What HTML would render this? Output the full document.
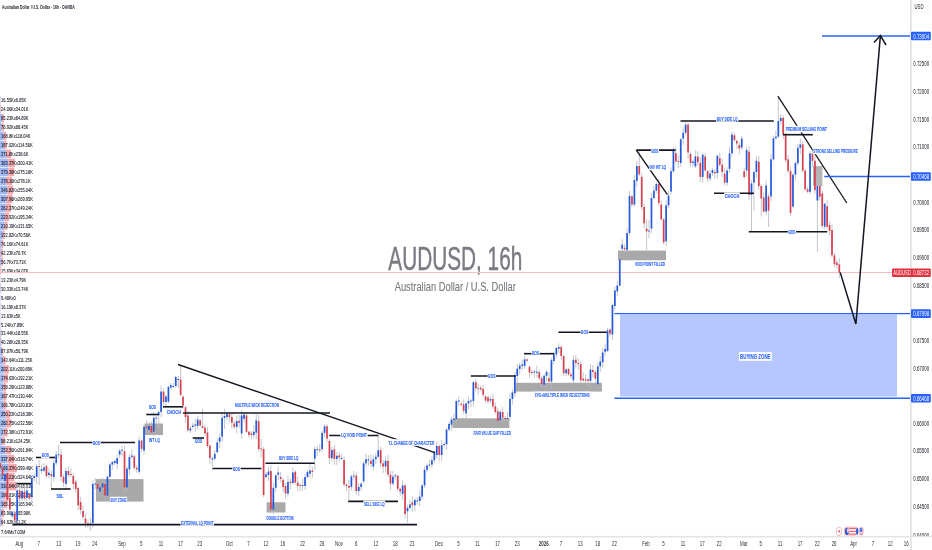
<!DOCTYPE html><html><head><meta charset="utf-8"><style>html,body{margin:0;padding:0;background:#fff;overflow:hidden}svg{display:block}</style></head><body><svg width="932" height="550" viewBox="0 0 932 550" font-family="Liberation Sans, Arial, sans-serif">
<rect width="932" height="550" fill="#ffffff"/>
<g fill="#7a7b83" stroke="#7a7b83">
<text x="388.3" y="270.4" font-size="32.7" stroke-width="0.45" textLength="134" lengthAdjust="spacingAndGlyphs">AUDUSD, 16h</text>
<text x="394.7" y="291.3" font-size="12.2" stroke-width="0.12" textLength="121.2" lengthAdjust="spacingAndGlyphs">Australian Dollar / U.S. Dollar</text>
</g>
<g>
<rect x="0" y="95.80" width="0.36" height="8.4" fill="#a3b9f2"/>
<rect x="0.36" y="95.80" width="0.13" height="8.4" fill="#f6a9ae"/>
<rect x="0" y="104.78" width="0.52" height="8.4" fill="#a3b9f2"/>
<rect x="0.52" y="104.78" width="0.74" height="8.4" fill="#f6a9ae"/>
<rect x="0" y="113.76" width="2.08" height="8.4" fill="#a3b9f2"/>
<rect x="2.08" y="113.76" width="1.85" height="8.4" fill="#f6a9ae"/>
<rect x="0" y="122.74" width="1.72" height="8.4" fill="#a3b9f2"/>
<rect x="1.72" y="122.74" width="1.93" height="8.4" fill="#f6a9ae"/>
<rect x="0" y="131.72" width="3.68" height="8.4" fill="#a3b9f2"/>
<rect x="3.68" y="131.72" width="2.57" height="8.4" fill="#f6a9ae"/>
<rect x="0" y="140.70" width="4.08" height="8.4" fill="#a3b9f2"/>
<rect x="4.08" y="140.70" width="2.50" height="8.4" fill="#f6a9ae"/>
<rect x="0" y="149.68" width="5.93" height="8.4" fill="#a3b9f2"/>
<rect x="5.93" y="149.68" width="5.20" height="8.4" fill="#f6a9ae"/>
<rect x="0" y="158.66" width="8.36" height="8.4" fill="#a3b9f2"/>
<rect x="8.36" y="158.66" width="6.55" height="8.4" fill="#f6a9ae"/>
<rect x="0" y="167.64" width="8.27" height="8.4" fill="#a3b9f2"/>
<rect x="8.27" y="167.64" width="6.00" height="8.4" fill="#f6a9ae"/>
<rect x="0" y="176.62" width="6.06" height="8.4" fill="#a3b9f2"/>
<rect x="6.06" y="176.62" width="6.06" height="8.4" fill="#f6a9ae"/>
<rect x="0" y="185.60" width="7.56" height="8.4" fill="#a3b9f2"/>
<rect x="7.56" y="185.60" width="5.56" height="8.4" fill="#f6a9ae"/>
<rect x="0" y="194.58" width="6.71" height="8.4" fill="#a3b9f2"/>
<rect x="6.71" y="194.58" width="5.88" height="8.4" fill="#f6a9ae"/>
<rect x="0" y="203.56" width="5.72" height="8.4" fill="#a3b9f2"/>
<rect x="5.72" y="203.56" width="5.43" height="8.4" fill="#f6a9ae"/>
<rect x="0" y="212.54" width="4.88" height="8.4" fill="#a3b9f2"/>
<rect x="4.88" y="212.54" width="4.26" height="8.4" fill="#f6a9ae"/>
<rect x="0" y="221.52" width="4.58" height="8.4" fill="#a3b9f2"/>
<rect x="4.58" y="221.52" width="2.87" height="8.4" fill="#f6a9ae"/>
<rect x="0" y="230.50" width="2.90" height="8.4" fill="#a3b9f2"/>
<rect x="2.90" y="230.50" width="1.54" height="8.4" fill="#f6a9ae"/>
<rect x="0" y="239.48" width="1.66" height="8.4" fill="#a3b9f2"/>
<rect x="1.66" y="239.48" width="1.63" height="8.4" fill="#f6a9ae"/>
<rect x="0" y="248.46" width="0.92" height="8.4" fill="#a3b9f2"/>
<rect x="0.92" y="248.46" width="1.54" height="8.4" fill="#f6a9ae"/>
<rect x="0" y="257.44" width="1.24" height="8.4" fill="#a3b9f2"/>
<rect x="1.24" y="257.44" width="1.61" height="8.4" fill="#f6a9ae"/>
<rect x="0" y="266.42" width="0.34" height="8.4" fill="#a3b9f2"/>
<rect x="0.34" y="266.42" width="0.74" height="8.4" fill="#f6a9ae"/>
<rect x="0" y="275.40" width="0.30" height="8.4" fill="#a3b9f2"/>
<rect x="0.30" y="275.40" width="0.10" height="8.4" fill="#f6a9ae"/>
<rect x="0" y="284.38" width="0.66" height="8.4" fill="#a3b9f2"/>
<rect x="0.66" y="284.38" width="0.30" height="8.4" fill="#f6a9ae"/>
<rect x="0" y="293.36" width="0.30" height="8.4" fill="#a3b9f2"/>
<rect x="0.30" y="293.36" width="0.00" height="8.4" fill="#f6a9ae"/>
<rect x="0" y="302.34" width="0.35" height="8.4" fill="#a3b9f2"/>
<rect x="0.35" y="302.34" width="0.18" height="8.4" fill="#f6a9ae"/>
<rect x="0" y="311.32" width="0.30" height="8.4" fill="#a3b9f2"/>
<rect x="0.30" y="311.32" width="0.11" height="8.4" fill="#f6a9ae"/>
<rect x="0" y="320.30" width="0.30" height="8.4" fill="#a3b9f2"/>
<rect x="0.30" y="320.30" width="0.17" height="8.4" fill="#f6a9ae"/>
<rect x="0" y="329.28" width="0.73" height="8.4" fill="#a3b9f2"/>
<rect x="0.73" y="329.28" width="0.40" height="8.4" fill="#f6a9ae"/>
<rect x="0" y="338.26" width="0.88" height="8.4" fill="#a3b9f2"/>
<rect x="0.88" y="338.26" width="0.62" height="8.4" fill="#f6a9ae"/>
<rect x="0" y="347.24" width="1.92" height="8.4" fill="#a3b9f2"/>
<rect x="1.92" y="347.24" width="1.24" height="8.4" fill="#f6a9ae"/>
<rect x="0" y="356.22" width="3.13" height="8.4" fill="#a3b9f2"/>
<rect x="3.13" y="356.22" width="2.43" height="8.4" fill="#f6a9ae"/>
<rect x="0" y="365.20" width="4.41" height="8.4" fill="#a3b9f2"/>
<rect x="4.41" y="365.20" width="4.38" height="8.4" fill="#f6a9ae"/>
<rect x="0" y="374.18" width="3.81" height="8.4" fill="#a3b9f2"/>
<rect x="3.81" y="374.18" width="4.19" height="8.4" fill="#f6a9ae"/>
<rect x="0" y="383.16" width="3.45" height="8.4" fill="#a3b9f2"/>
<rect x="3.45" y="383.16" width="2.70" height="8.4" fill="#f6a9ae"/>
<rect x="0" y="392.14" width="3.65" height="8.4" fill="#a3b9f2"/>
<rect x="3.65" y="392.14" width="2.84" height="8.4" fill="#f6a9ae"/>
<rect x="0" y="401.12" width="3.64" height="8.4" fill="#a3b9f2"/>
<rect x="3.64" y="401.12" width="2.63" height="8.4" fill="#f6a9ae"/>
<rect x="0" y="410.10" width="5.46" height="8.4" fill="#a3b9f2"/>
<rect x="5.46" y="410.10" width="4.76" height="8.4" fill="#f6a9ae"/>
<rect x="0" y="419.08" width="6.16" height="8.4" fill="#a3b9f2"/>
<rect x="6.16" y="419.08" width="5.07" height="8.4" fill="#f6a9ae"/>
<rect x="0" y="428.06" width="3.76" height="8.4" fill="#a3b9f2"/>
<rect x="3.76" y="428.06" width="3.79" height="8.4" fill="#f6a9ae"/>
<rect x="0" y="437.04" width="2.14" height="8.4" fill="#a3b9f2"/>
<rect x="2.14" y="437.04" width="2.71" height="8.4" fill="#f6a9ae"/>
<rect x="0" y="446.02" width="5.53" height="8.4" fill="#a3b9f2"/>
<rect x="5.53" y="446.02" width="5.71" height="8.4" fill="#f6a9ae"/>
<rect x="0" y="455.00" width="7.35" height="8.4" fill="#a3b9f2"/>
<rect x="7.35" y="455.00" width="6.95" height="8.4" fill="#f6a9ae"/>
<rect x="0" y="463.98" width="7.99" height="8.4" fill="#a3b9f2"/>
<rect x="7.99" y="463.98" width="8.71" height="8.4" fill="#f6a9ae"/>
<rect x="0" y="472.96" width="7.35" height="8.4" fill="#a3b9f2"/>
<rect x="7.35" y="472.96" width="7.08" height="8.4" fill="#f6a9ae"/>
<rect x="0" y="481.94" width="7.19" height="8.4" fill="#a3b9f2"/>
<rect x="7.19" y="481.94" width="9.13" height="8.4" fill="#f6a9ae"/>
<rect x="0" y="490.92" width="4.29" height="8.4" fill="#a3b9f2"/>
<rect x="4.29" y="490.92" width="4.43" height="8.4" fill="#f6a9ae"/>
<rect x="0" y="499.90" width="3.60" height="8.4" fill="#a3b9f2"/>
<rect x="3.60" y="499.90" width="3.62" height="8.4" fill="#f6a9ae"/>
<rect x="0" y="508.88" width="1.83" height="8.4" fill="#a3b9f2"/>
<rect x="1.83" y="508.88" width="2.31" height="8.4" fill="#f6a9ae"/>
<rect x="0" y="517.86" width="1.41" height="8.4" fill="#a3b9f2"/>
<rect x="1.41" y="517.86" width="1.33" height="8.4" fill="#f6a9ae"/>
</g>
<g fill="#131722" stroke="#131722" stroke-width="0.08">
<text transform="translate(1.1,102.00) scale(0.73,1)" font-size="5.5">16.55Kx6.05K</text>
<text transform="translate(1.1,110.98) scale(0.73,1)" font-size="5.5">24.06Kx34.01K</text>
<text transform="translate(1.1,119.96) scale(0.73,1)" font-size="5.5">95.23Kx84.89K</text>
<text transform="translate(1.1,128.94) scale(0.73,1)" font-size="5.5">78.92Kx88.45K</text>
<text transform="translate(1.1,137.92) scale(0.73,1)" font-size="5.5">168.8Kx118.04K</text>
<text transform="translate(1.1,146.90) scale(0.73,1)" font-size="5.5">187.02Kx114.56K</text>
<text transform="translate(1.1,155.88) scale(0.73,1)" font-size="5.5">271.8Kx238.6K</text>
<text transform="translate(1.1,164.86) scale(0.73,1)" font-size="5.5">383.37Kx300.41K</text>
<text transform="translate(1.1,173.84) scale(0.73,1)" font-size="5.5">379.38Kx275.18K</text>
<text transform="translate(1.1,182.82) scale(0.73,1)" font-size="5.5">278.16Kx278.1K</text>
<text transform="translate(1.1,191.80) scale(0.73,1)" font-size="5.5">346.82Kx255.04K</text>
<text transform="translate(1.1,200.78) scale(0.73,1)" font-size="5.5">307.96Kx269.95K</text>
<text transform="translate(1.1,209.76) scale(0.73,1)" font-size="5.5">262.37Kx249.24K</text>
<text transform="translate(1.1,218.74) scale(0.73,1)" font-size="5.5">223.92Kx195.34K</text>
<text transform="translate(1.1,227.72) scale(0.73,1)" font-size="5.5">210.19Kx131.65K</text>
<text transform="translate(1.1,236.70) scale(0.73,1)" font-size="5.5">132.82Kx70.56K</text>
<text transform="translate(1.1,245.68) scale(0.73,1)" font-size="5.5">76.16Kx74.61K</text>
<text transform="translate(1.1,254.66) scale(0.73,1)" font-size="5.5">42.23Kx70.7K</text>
<text transform="translate(1.1,263.64) scale(0.73,1)" font-size="5.5">56.7Kx73.71K</text>
<text transform="translate(1.1,272.62) scale(0.73,1)" font-size="5.5">15.69Kx34.07K</text>
<text transform="translate(1.1,281.60) scale(0.73,1)" font-size="5.5">13.23Kx4.79K</text>
<text transform="translate(1.1,290.58) scale(0.73,1)" font-size="5.5">30.33Kx13.74K</text>
<text transform="translate(1.1,299.56) scale(0.73,1)" font-size="5.5">9.48Kx0</text>
<text transform="translate(1.1,308.54) scale(0.73,1)" font-size="5.5">16.19Kx8.37K</text>
<text transform="translate(1.1,317.52) scale(0.73,1)" font-size="5.5">13.63Kx5K</text>
<text transform="translate(1.1,326.50) scale(0.73,1)" font-size="5.5">5.24Kx7.89K</text>
<text transform="translate(1.1,335.48) scale(0.73,1)" font-size="5.5">33.44Kx18.55K</text>
<text transform="translate(1.1,344.46) scale(0.73,1)" font-size="5.5">40.28Kx28.35K</text>
<text transform="translate(1.1,353.44) scale(0.73,1)" font-size="5.5">87.87Kx56.79K</text>
<text transform="translate(1.1,362.42) scale(0.73,1)" font-size="5.5">143.64Kx111.25K</text>
<text transform="translate(1.1,371.40) scale(0.73,1)" font-size="5.5">202.11Kx200.89K</text>
<text transform="translate(1.1,380.38) scale(0.73,1)" font-size="5.5">174.63Kx192.21K</text>
<text transform="translate(1.1,389.36) scale(0.73,1)" font-size="5.5">158.29Kx123.88K</text>
<text transform="translate(1.1,398.34) scale(0.73,1)" font-size="5.5">167.47Kx130.44K</text>
<text transform="translate(1.1,407.32) scale(0.73,1)" font-size="5.5">166.78Kx120.81K</text>
<text transform="translate(1.1,416.30) scale(0.73,1)" font-size="5.5">250.23Kx218.38K</text>
<text transform="translate(1.1,425.28) scale(0.73,1)" font-size="5.5">282.75Kx232.56K</text>
<text transform="translate(1.1,434.26) scale(0.73,1)" font-size="5.5">172.38Kx173.91K</text>
<text transform="translate(1.1,443.24) scale(0.73,1)" font-size="5.5">98.21Kx124.25K</text>
<text transform="translate(1.1,452.22) scale(0.73,1)" font-size="5.5">253.56Kx261.84K</text>
<text transform="translate(1.1,461.20) scale(0.73,1)" font-size="5.5">337.04Kx318.74K</text>
<text transform="translate(1.1,470.18) scale(0.73,1)" font-size="5.5">366.37Kx399.46K</text>
<text transform="translate(1.1,479.16) scale(0.73,1)" font-size="5.5">337.21Kx324.64K</text>
<text transform="translate(1.1,488.14) scale(0.73,1)" font-size="5.5">330.04Kx418.91K</text>
<text transform="translate(1.1,497.12) scale(0.73,1)" font-size="5.5">196.81Kx203.35K</text>
<text transform="translate(1.1,506.10) scale(0.73,1)" font-size="5.5">165.35Kx165.94K</text>
<text transform="translate(1.1,515.08) scale(0.73,1)" font-size="5.5">83.96Kx105.98K</text>
<text transform="translate(1.1,524.06) scale(0.73,1)" font-size="5.5">64.62Kx61.2K</text>
<text transform="translate(1.1,533.70) scale(0.73,1)" font-size="5.5">7.64Mx7.03M</text>
</g>
<line x1="0" y1="272.5" x2="910" y2="272.5" stroke="#f6bcc1" stroke-width="1.0"/>
<rect x="95.9" y="479.1" width="47.60" height="22.50" fill="#a9a9a9"/>
<rect x="144.6" y="423.5" width="18.40" height="11.50" fill="#a9a9a9"/>
<rect x="266.6" y="502.3" width="18.90" height="10.20" fill="#a9a9a9"/>
<rect x="452.4" y="418.3" width="57.00" height="9.70" fill="#a9a9a9"/>
<rect x="515.8" y="382.8" width="86.10" height="8.80" fill="#a9a9a9"/>
<rect x="618" y="250.6" width="48.00" height="9.70" fill="#a9a9a9"/>
<rect x="813" y="166" width="9.4" height="20" fill="#a3a3a3" fill-opacity="0.8"/>
<rect x="620" y="314.5" width="277" height="82" fill="#b5c7fe"/>
<path d="M0.10 460.2V469.8M2.54 463.4V476.4M4.98 470.1V484.0M7.42 471.7V503.8M9.86 496.8V512.9M12.30 510.8V517.8M14.74 510.3V525.9M17.18 488.7V522.6M19.62 485.9V504.8M22.06 486.8V501.8M24.50 485.4V499.9M26.94 484.7V500.5M29.38 492.7V500.2M31.81 475.5V502.7M34.25 474.0V482.2M36.69 464.0V484.0M39.13 460.0V485.0M41.57 464.5V474.0M44.01 463.5V472.0M46.45 464.7V478.1M48.89 468.0V478.4M51.33 470.0V489.0M53.77 460.3V481.2M56.21 451.2V465.6M58.65 445.0V458.0M61.09 449.3V481.6M63.53 474.5V486.7M65.97 467.1V489.8M68.41 466.0V477.6M70.85 467.6V476.6M73.29 472.7V489.2M75.73 479.9V492.7M78.17 486.8V510.1M80.61 496.8V514.2M83.05 505.2V519.7M85.49 513.7V527.7M87.93 519.3V528.0M90.37 517.9V530.7M92.80 480.4V527.7M95.24 478.0V489.0M97.68 482.7V493.9M100.12 482.8V498.0M102.56 477.8V490.0M105.00 480.9V500.3M107.44 475.7V499.1M109.88 462.6V478.4M112.32 460.7V469.7M114.76 459.3V465.4M117.20 454.8V469.5M119.64 449.2V458.2M122.08 445.8V456.5M124.52 445.9V493.2M126.96 466.1V490.7M129.40 454.0V475.3M131.84 449.2V458.8M134.28 454.3V470.1M136.72 465.5V473.1M139.16 436.4V474.1M141.60 439.6V452.1M144.04 423.8V454.6M146.48 420.3V432.8M148.92 422.2V434.4M151.36 421.3V433.8M153.79 411.9V437.0M156.23 416.0V424.0M158.67 411.0V429.0M161.11 385.8V417.4M163.55 388.4V405.2M165.99 394.9V406.5M168.43 385.6V403.0M170.87 383.1V389.6M173.31 383.1V388.3M175.75 376.0V387.8M178.19 376.0V388.0M180.63 365.6V396.0M183.07 395.1V408.6M185.51 406.2V422.8M187.95 411.1V432.0M190.39 426.1V433.4M192.83 422.6V428.7M195.27 418.7V432.1M197.71 415.9V429.7M200.15 418.9V426.9M202.59 409.0V429.0M205.03 424.8V435.9M207.47 427.0V447.9M209.91 444.6V464.2M212.35 457.0V467.0M214.78 449.9V460.5M217.22 438.4V453.3M219.66 433.6V448.0M222.10 412.2V441.5M224.54 409.0V429.0M226.98 411.4V420.0M229.42 412.4V422.2M231.86 413.1V428.1M234.30 420.8V429.1M236.74 415.5V433.3M239.18 415.1V428.2M241.62 409.9V438.5M244.06 412.4V422.5M246.50 412.4V433.0M248.94 430.6V437.5M251.38 431.0V439.8M253.82 425.5V438.5M256.26 414.2V439.1M258.70 414.9V452.0M261.14 439.0V457.0M263.58 446.8V497.2M266.02 472.2V479.1M268.46 467.1V481.0M270.90 465.4V513.2M273.34 483.2V515.0M275.77 473.9V492.4M278.21 466.5V480.0M280.65 471.9V482.6M283.09 477.8V492.3M285.53 483.2V499.0M287.97 475.7V496.8M290.41 478.3V489.2M292.85 467.5V484.9M295.29 470.1V484.3M297.73 476.7V491.4M300.17 483.2V491.5M302.61 478.6V490.6M305.05 474.1V490.0M307.49 470.3V478.1M309.93 464.2V478.3M312.37 466.6V478.1M314.81 447.0V470.0M317.25 445.8V455.8M319.69 444.0V452.7M322.13 430.5V451.8M324.57 424.0V437.1M327.01 423.9V441.9M329.45 439.3V464.2M331.89 447.1V461.7M334.33 445.0V465.0M336.76 452.5V465.0M339.20 451.6V461.3M341.64 454.1V460.1M344.08 456.6V486.5M346.52 483.5V491.4M348.96 480.0V500.0M351.40 474.5V490.6M353.84 470.6V480.5M356.28 472.8V494.9M358.72 482.9V496.3M361.16 482.1V491.1M363.60 460.9V483.8M366.04 454.0V467.1M368.48 455.4V465.7M370.92 454.8V467.4M373.36 454.8V470.4M375.80 453.0V464.0M378.24 435.5V458.0M380.68 446.7V467.2M383.12 459.7V472.8M385.56 456.0V472.4M388.00 454.6V477.0M390.44 470.5V489.8M392.88 471.1V485.4M395.32 473.6V479.7M397.75 474.4V491.1M400.19 487.4V496.1M402.63 480.1V499.9M405.07 483.6V518.9M407.51 505.0V522.6M409.95 499.8V509.7M412.39 496.4V511.6M414.83 497.8V511.5M417.27 497.3V505.2M419.71 490.2V506.6M422.15 483.5V500.0M424.59 466.0V488.3M427.03 463.4V472.6M429.47 459.6V466.7M431.91 456.3V468.0M434.35 450.5V463.1M436.79 441.6V458.8M439.23 444.6V461.4M441.67 439.9V461.3M444.11 442.4V447.5M446.55 428.4V449.6M448.99 421.5V431.3M451.43 416.5V430.7M453.87 413.5V422.4M456.31 399.2V425.1M458.74 396.4V406.4M461.18 402.3V406.1M463.62 399.5V414.1M466.06 402.1V419.5M468.50 396.5V408.9M470.94 399.0V407.2M473.38 380.9V406.7M475.82 378.8V391.2M478.26 383.8V394.9M480.70 385.3V391.1M483.14 385.1V397.1M485.58 394.9V402.5M488.02 396.0V403.5M490.46 396.3V403.3M492.90 393.8V408.9M495.34 402.5V414.0M497.78 408.3V422.1M500.22 409.6V421.3M502.66 407.0V421.7M505.10 416.0V422.6M507.54 411.9V420.6M509.98 393.5V420.3M512.42 388.7V404.6M514.86 372.0V397.0M517.30 363.9V382.4M519.73 362.6V374.6M522.17 359.7V370.5M524.61 356.2V368.9M527.05 358.1V362.4M529.49 365.4V377.6M531.93 369.6V374.9M534.37 370.0V378.1M536.81 365.9V377.5M539.25 369.6V380.5M541.69 375.6V387.5M544.13 373.9V388.2M546.57 369.6V382.1M549.01 371.9V385.5M551.45 357.9V387.8M553.89 351.8V364.0M556.33 347.0V357.6M558.77 343.4V352.6M561.21 344.9V359.8M563.65 355.0V375.8M566.09 368.0V376.4M568.53 367.8V375.6M570.97 371.8V378.5M573.41 355.6V384.2M575.85 354.7V367.6M578.29 358.1V369.8M580.72 360.9V383.1M583.16 372.2V382.1M585.60 374.4V385.1M588.04 378.2V386.6M590.48 363.7V385.5M592.92 365.0V377.5M595.36 370.2V382.5M597.80 362.6V389.9M600.24 356.1V371.9M602.68 348.3V368.2M605.12 344.1V356.5M607.56 328.1V352.1M610.00 327.9V336.7M612.44 303.4V340.1M614.88 286.4V310.5M617.32 281.2V296.0M619.76 255.7V286.6M622.20 239.3V253.9M624.64 244.0V253.2M627.08 228.4V251.4M629.52 190.9V235.4M631.96 195.0V207.0M634.40 175.0V206.6M636.84 160.9V187.2M639.28 150.6V176.0M641.71 173.1V210.1M644.15 203.4V228.1M646.59 219.0V252.7M649.03 220.0V238.0M651.47 192.8V233.0M653.91 186.1V199.4M656.35 182.2V193.0M658.79 178.9V205.7M661.23 200.4V220.5M663.67 218.1V244.8M666.11 200.7V246.0M668.55 190.9V208.0M670.99 167.4V195.2M673.43 147.2V172.9M675.87 147.3V163.5M678.31 154.6V168.1M680.75 138.2V166.5M683.19 127.3V144.8M685.63 121.1V135.3M688.07 122.4V158.6M690.51 151.8V167.2M692.95 159.7V166.9M695.39 150.3V168.0M697.83 151.0V166.0M700.27 157.1V181.8M702.70 152.5V182.8M705.14 152.8V171.5M707.58 170.2V182.2M710.02 170.1V181.2M712.46 168.2V175.9M714.90 169.3V179.0M717.34 154.8V178.1M719.78 152.6V166.4M722.22 158.6V176.9M724.66 167.7V185.3M727.10 167.5V185.9M729.54 146.8V173.0M731.98 131.5V156.7M734.42 132.8V141.5M736.86 139.4V149.1M739.30 142.4V154.5M741.74 136.2V150.1M744.18 167.5V179.0M746.62 146.9V176.8M749.06 145.8V200.5M751.50 180.0V231.0M753.94 170.0V210.5M756.38 156.2V178.0M758.82 155.6V190.0M761.26 184.0V216.5M763.69 192.4V212.9M766.13 180.5V215.1M768.57 194.0V227.0M771.01 154.2V200.9M773.45 135.6V160.7M775.89 130.5V139.9M778.33 96.5V138.0M780.77 114.2V123.9M783.21 115.2V139.2M785.65 127.7V162.7M788.09 154.8V173.6M790.53 166.8V216.2M792.97 172.9V208.5M795.41 160.9V180.6M797.85 144.0V165.4M800.29 138.4V154.2M802.73 140.9V172.4M805.17 168.5V190.8M807.61 186.4V193.3M810.05 151.1V194.2M812.49 149.3V166.7M814.93 155.7V193.5M817.37 184.0V252.0M819.81 182.7V200.6M822.25 190.3V228.7M824.68 202.5V229.2M827.12 199.9V228.4M829.56 221.2V235.3M832.00 224.3V257.5M834.44 252.8V266.7M836.88 259.4V268.5M839.32 258.1V278.1" stroke="#b4b8c0" stroke-width="0.8" fill="none"/>
<g fill="#2459dc"><rect x="4.13" y="474.0" width="1.7" height="7.0"/><rect x="11.45" y="512.2" width="1.7" height="4.1"/><rect x="16.33" y="490.4" width="1.7" height="30.0"/><rect x="21.21" y="491.0" width="1.7" height="7.6"/><rect x="26.09" y="490.4" width="1.7" height="7.5"/><rect x="30.96" y="478.2" width="1.7" height="19.0"/><rect x="33.40" y="476.0" width="1.7" height="2.0"/><rect x="35.84" y="466.2" width="1.7" height="10.6"/><rect x="40.72" y="469.0" width="1.7" height="2.0"/><rect x="43.16" y="467.5" width="1.7" height="3.2"/><rect x="48.04" y="472.7" width="1.7" height="2.3"/><rect x="52.92" y="463.0" width="1.7" height="14.0"/><rect x="55.36" y="454.7" width="1.7" height="8.3"/><rect x="57.80" y="454.2" width="1.7" height="1.0"/><rect x="65.12" y="471.0" width="1.7" height="13.0"/><rect x="89.52" y="523.5" width="1.7" height="1.0"/><rect x="91.95" y="484.0" width="1.7" height="39.0"/><rect x="94.39" y="483.5" width="1.7" height="1.0"/><rect x="99.27" y="487.4" width="1.7" height="4.1"/><rect x="101.71" y="483.3" width="1.7" height="4.1"/><rect x="106.59" y="476.8" width="1.7" height="18.8"/><rect x="109.03" y="464.5" width="1.7" height="12.3"/><rect x="111.47" y="462.0" width="1.7" height="2.5"/><rect x="113.91" y="461.0" width="1.7" height="2.0"/><rect x="116.35" y="458.0" width="1.7" height="5.7"/><rect x="118.79" y="450.6" width="1.7" height="4.1"/><rect x="121.23" y="449.8" width="1.7" height="0.9"/><rect x="126.11" y="468.6" width="1.7" height="18.8"/><rect x="128.55" y="457.0" width="1.7" height="12.4"/><rect x="130.99" y="455.5" width="1.7" height="1.5"/><rect x="138.31" y="440.6" width="1.7" height="31.1"/><rect x="143.19" y="426.8" width="1.7" height="23.7"/><rect x="148.07" y="426.0" width="1.7" height="4.0"/><rect x="152.94" y="417.8" width="1.7" height="13.9"/><rect x="155.38" y="417.5" width="1.7" height="1.0"/><rect x="157.82" y="412.0" width="1.7" height="3.3"/><rect x="160.26" y="391.6" width="1.7" height="20.4"/><rect x="165.14" y="396.5" width="1.7" height="5.5"/><rect x="167.58" y="386.9" width="1.7" height="14.7"/><rect x="170.02" y="385.2" width="1.7" height="2.5"/><rect x="172.46" y="386.0" width="1.7" height="1.0"/><rect x="174.90" y="377.0" width="1.7" height="9.0"/><rect x="177.34" y="379.0" width="1.7" height="1.0"/><rect x="189.54" y="428.5" width="1.7" height="2.0"/><rect x="191.98" y="425.6" width="1.7" height="1.4"/><rect x="194.42" y="424.4" width="1.7" height="1.2"/><rect x="196.86" y="419.5" width="1.7" height="6.5"/><rect x="211.50" y="458.2" width="1.7" height="1.3"/><rect x="213.93" y="453.8" width="1.7" height="4.9"/><rect x="216.37" y="442.4" width="1.7" height="9.8"/><rect x="218.81" y="437.5" width="1.7" height="4.1"/><rect x="221.25" y="417.9" width="1.7" height="18.8"/><rect x="223.69" y="416.0" width="1.7" height="2.0"/><rect x="226.13" y="413.8" width="1.7" height="3.2"/><rect x="235.89" y="421.0" width="1.7" height="5.9"/><rect x="240.77" y="415.4" width="1.7" height="18.0"/><rect x="243.21" y="414.6" width="1.7" height="4.1"/><rect x="252.97" y="431.8" width="1.7" height="3.2"/><rect x="255.41" y="420.4" width="1.7" height="12.3"/><rect x="265.17" y="474.3" width="1.7" height="2.7"/><rect x="267.61" y="471.5" width="1.7" height="3.5"/><rect x="272.49" y="487.8" width="1.7" height="21.8"/><rect x="274.92" y="475.4" width="1.7" height="12.4"/><rect x="277.36" y="472.5" width="1.7" height="2.2"/><rect x="287.12" y="482.0" width="1.7" height="11.6"/><rect x="292.00" y="472.5" width="1.7" height="10.5"/><rect x="301.76" y="485.0" width="1.7" height="1.0"/><rect x="304.20" y="477.0" width="1.7" height="9.0"/><rect x="306.64" y="472.0" width="1.7" height="5.0"/><rect x="309.08" y="470.5" width="1.7" height="3.2"/><rect x="313.96" y="449.2" width="1.7" height="9.3"/><rect x="316.40" y="449.2" width="1.7" height="0.9"/><rect x="321.28" y="432.9" width="1.7" height="16.3"/><rect x="323.72" y="426.3" width="1.7" height="6.6"/><rect x="331.04" y="450.0" width="1.7" height="8.2"/><rect x="335.91" y="455.8" width="1.7" height="3.2"/><rect x="340.79" y="458.0" width="1.7" height="1.0"/><rect x="350.55" y="476.4" width="1.7" height="10.6"/><rect x="352.99" y="475.6" width="1.7" height="0.9"/><rect x="357.87" y="487.0" width="1.7" height="4.0"/><rect x="360.31" y="483.7" width="1.7" height="3.3"/><rect x="362.75" y="463.3" width="1.7" height="18.0"/><rect x="365.19" y="459.2" width="1.7" height="4.1"/><rect x="367.63" y="459.5" width="1.7" height="1.0"/><rect x="372.51" y="459.2" width="1.7" height="7.4"/><rect x="374.95" y="456.8" width="1.7" height="2.4"/><rect x="377.39" y="450.2" width="1.7" height="6.6"/><rect x="384.71" y="460.8" width="1.7" height="5.8"/><rect x="392.03" y="476.7" width="1.7" height="6.9"/><rect x="394.47" y="475.3" width="1.7" height="1.0"/><rect x="401.78" y="485.4" width="1.7" height="8.6"/><rect x="406.66" y="507.9" width="1.7" height="3.4"/><rect x="409.10" y="504.4" width="1.7" height="3.5"/><rect x="413.98" y="500.0" width="1.7" height="5.3"/><rect x="416.42" y="500.5" width="1.7" height="1.0"/><rect x="418.86" y="496.6" width="1.7" height="4.4"/><rect x="421.30" y="485.4" width="1.7" height="11.2"/><rect x="423.74" y="469.8" width="1.7" height="15.6"/><rect x="426.18" y="465.5" width="1.7" height="4.3"/><rect x="428.62" y="464.6" width="1.7" height="1.0"/><rect x="431.06" y="460.3" width="1.7" height="4.3"/><rect x="433.50" y="451.6" width="1.7" height="8.7"/><rect x="435.94" y="446.0" width="1.7" height="9.0"/><rect x="440.82" y="445.2" width="1.7" height="9.8"/><rect x="443.26" y="444.0" width="1.7" height="1.0"/><rect x="445.70" y="429.6" width="1.7" height="14.7"/><rect x="448.14" y="424.0" width="1.7" height="5.6"/><rect x="450.58" y="419.8" width="1.7" height="4.9"/><rect x="453.02" y="419.0" width="1.7" height="1.0"/><rect x="455.46" y="401.0" width="1.7" height="18.0"/><rect x="457.89" y="400.5" width="1.7" height="1.0"/><rect x="465.21" y="403.5" width="1.7" height="9.8"/><rect x="467.65" y="401.0" width="1.7" height="2.5"/><rect x="470.09" y="400.5" width="1.7" height="1.0"/><rect x="472.53" y="382.3" width="1.7" height="18.7"/><rect x="489.61" y="399.0" width="1.7" height="1.6"/><rect x="499.37" y="412.0" width="1.7" height="8.2"/><rect x="506.69" y="418.0" width="1.7" height="1.0"/><rect x="509.13" y="399.0" width="1.7" height="17.9"/><rect x="511.57" y="392.4" width="1.7" height="6.6"/><rect x="514.01" y="375.2" width="1.7" height="18.0"/><rect x="516.45" y="368.7" width="1.7" height="7.3"/><rect x="518.88" y="365.5" width="1.7" height="3.5"/><rect x="521.32" y="364.6" width="1.7" height="1.4"/><rect x="523.76" y="359.4" width="1.7" height="6.6"/><rect x="533.52" y="371.5" width="1.7" height="1.0"/><rect x="535.96" y="371.7" width="1.7" height="1.1"/><rect x="543.28" y="375.8" width="1.7" height="8.9"/><rect x="545.72" y="372.0" width="1.7" height="3.8"/><rect x="550.60" y="360.2" width="1.7" height="21.3"/><rect x="553.04" y="354.5" width="1.7" height="6.5"/><rect x="555.48" y="348.0" width="1.7" height="6.5"/><rect x="557.92" y="347.0" width="1.7" height="1.8"/><rect x="565.24" y="369.5" width="1.7" height="3.7"/><rect x="572.56" y="359.8" width="1.7" height="20.5"/><rect x="589.63" y="369.6" width="1.7" height="11.4"/><rect x="596.95" y="366.4" width="1.7" height="17.9"/><rect x="599.39" y="361.5" width="1.7" height="4.9"/><rect x="601.83" y="352.5" width="1.7" height="9.8"/><rect x="604.27" y="348.9" width="1.7" height="2.8"/><rect x="606.71" y="330.4" width="1.7" height="20.5"/><rect x="611.59" y="305.0" width="1.7" height="29.5"/><rect x="614.03" y="290.5" width="1.7" height="15.5"/><rect x="616.47" y="285.6" width="1.7" height="5.7"/><rect x="618.91" y="259.4" width="1.7" height="26.2"/><rect x="621.35" y="244.7" width="1.7" height="4.1"/><rect x="626.23" y="233.0" width="1.7" height="17.0"/><rect x="628.67" y="196.0" width="1.7" height="37.0"/><rect x="633.55" y="180.0" width="1.7" height="24.5"/><rect x="635.99" y="166.0" width="1.7" height="14.8"/><rect x="648.18" y="230.5" width="1.7" height="1.0"/><rect x="650.62" y="198.0" width="1.7" height="30.6"/><rect x="653.06" y="190.6" width="1.7" height="7.4"/><rect x="655.50" y="184.0" width="1.7" height="6.6"/><rect x="665.26" y="205.4" width="1.7" height="35.8"/><rect x="667.70" y="195.6" width="1.7" height="9.8"/><rect x="670.14" y="171.2" width="1.7" height="20.4"/><rect x="672.58" y="150.8" width="1.7" height="20.4"/><rect x="679.90" y="139.3" width="1.7" height="23.7"/><rect x="682.34" y="132.8" width="1.7" height="5.7"/><rect x="684.78" y="124.6" width="1.7" height="8.2"/><rect x="692.10" y="161.5" width="1.7" height="1.5"/><rect x="694.54" y="156.5" width="1.7" height="9.8"/><rect x="701.85" y="154.8" width="1.7" height="22.1"/><rect x="709.17" y="173.6" width="1.7" height="4.9"/><rect x="711.61" y="170.0" width="1.7" height="3.0"/><rect x="716.49" y="155.8" width="1.7" height="17.2"/><rect x="726.25" y="170.5" width="1.7" height="12.2"/><rect x="728.69" y="153.3" width="1.7" height="15.5"/><rect x="731.13" y="134.5" width="1.7" height="18.8"/><rect x="740.89" y="138.6" width="1.7" height="9.0"/><rect x="745.77" y="150.0" width="1.7" height="20.5"/><rect x="750.65" y="183.5" width="1.7" height="11.5"/><rect x="753.09" y="172.0" width="1.7" height="10.7"/><rect x="755.53" y="160.7" width="1.7" height="11.3"/><rect x="765.28" y="185.5" width="1.7" height="26.1"/><rect x="770.16" y="159.3" width="1.7" height="37.1"/><rect x="772.60" y="138.2" width="1.7" height="21.2"/><rect x="775.04" y="136.6" width="1.7" height="1.6"/><rect x="777.48" y="121.0" width="1.7" height="15.6"/><rect x="779.92" y="117.8" width="1.7" height="3.2"/><rect x="792.12" y="174.8" width="1.7" height="31.8"/><rect x="794.56" y="163.0" width="1.7" height="11.6"/><rect x="797.00" y="147.7" width="1.7" height="15.5"/><rect x="799.44" y="144.4" width="1.7" height="3.3"/><rect x="809.20" y="153.4" width="1.7" height="38.4"/><rect x="816.52" y="186.0" width="1.7" height="14.5"/><rect x="823.83" y="203.8" width="1.7" height="22.9"/></g>
<g fill="#d8404e"><rect x="-0.75" y="463.0" width="1.7" height="5.0"/><rect x="1.69" y="468.0" width="1.7" height="7.0"/><rect x="6.57" y="473.0" width="1.7" height="27.0"/><rect x="9.01" y="498.0" width="1.7" height="11.5"/><rect x="13.89" y="513.6" width="1.7" height="6.8"/><rect x="18.77" y="490.4" width="1.7" height="8.2"/><rect x="23.65" y="491.8" width="1.7" height="6.8"/><rect x="28.53" y="494.5" width="1.7" height="4.1"/><rect x="38.28" y="466.0" width="1.7" height="1.0"/><rect x="45.60" y="466.0" width="1.7" height="10.0"/><rect x="50.48" y="474.0" width="1.7" height="2.3"/><rect x="60.24" y="454.7" width="1.7" height="22.1"/><rect x="62.68" y="476.8" width="1.7" height="5.7"/><rect x="67.56" y="471.0" width="1.7" height="4.0"/><rect x="70.00" y="474.0" width="1.7" height="1.0"/><rect x="72.44" y="476.0" width="1.7" height="8.0"/><rect x="74.88" y="481.7" width="1.7" height="7.3"/><rect x="77.32" y="488.0" width="1.7" height="17.4"/><rect x="79.76" y="502.0" width="1.7" height="8.0"/><rect x="82.20" y="511.0" width="1.7" height="6.0"/><rect x="84.64" y="518.5" width="1.7" height="4.9"/><rect x="87.08" y="523.5" width="1.7" height="1.0"/><rect x="96.83" y="484.0" width="1.7" height="5.0"/><rect x="104.15" y="484.0" width="1.7" height="11.6"/><rect x="123.67" y="451.4" width="1.7" height="36.0"/><rect x="133.43" y="456.3" width="1.7" height="11.5"/><rect x="135.87" y="467.8" width="1.7" height="1.6"/><rect x="140.75" y="440.6" width="1.7" height="8.2"/><rect x="145.63" y="426.5" width="1.7" height="1.5"/><rect x="150.51" y="426.0" width="1.7" height="6.5"/><rect x="162.70" y="391.6" width="1.7" height="10.4"/><rect x="179.78" y="379.5" width="1.7" height="15.5"/><rect x="182.22" y="396.7" width="1.7" height="8.9"/><rect x="184.66" y="407.3" width="1.7" height="9.7"/><rect x="187.10" y="415.5" width="1.7" height="14.7"/><rect x="199.30" y="420.4" width="1.7" height="4.9"/><rect x="201.74" y="426.0" width="1.7" height="1.7"/><rect x="204.18" y="427.7" width="1.7" height="5.7"/><rect x="206.62" y="432.6" width="1.7" height="13.4"/><rect x="209.06" y="445.7" width="1.7" height="12.3"/><rect x="228.57" y="414.3" width="1.7" height="2.7"/><rect x="231.01" y="417.0" width="1.7" height="5.8"/><rect x="233.45" y="423.6" width="1.7" height="3.3"/><rect x="238.33" y="420.8" width="1.7" height="2.0"/><rect x="245.65" y="415.4" width="1.7" height="16.4"/><rect x="248.09" y="431.8" width="1.7" height="3.2"/><rect x="250.53" y="433.4" width="1.7" height="1.6"/><rect x="257.85" y="421.2" width="1.7" height="27.8"/><rect x="260.29" y="448.5" width="1.7" height="1.0"/><rect x="262.73" y="449.0" width="1.7" height="46.0"/><rect x="270.05" y="471.0" width="1.7" height="38.6"/><rect x="279.80" y="477.0" width="1.7" height="2.0"/><rect x="282.24" y="479.8" width="1.7" height="7.2"/><rect x="284.68" y="486.0" width="1.7" height="7.6"/><rect x="289.56" y="481.5" width="1.7" height="1.5"/><rect x="294.44" y="471.8" width="1.7" height="10.7"/><rect x="296.88" y="482.7" width="1.7" height="3.3"/><rect x="299.32" y="485.0" width="1.7" height="1.0"/><rect x="311.52" y="470.5" width="1.7" height="1.5"/><rect x="318.84" y="449.5" width="1.7" height="1.0"/><rect x="326.16" y="426.3" width="1.7" height="12.3"/><rect x="328.60" y="441.0" width="1.7" height="17.2"/><rect x="333.48" y="449.2" width="1.7" height="9.8"/><rect x="338.35" y="455.4" width="1.7" height="2.0"/><rect x="343.23" y="460.0" width="1.7" height="24.5"/><rect x="345.67" y="484.5" width="1.7" height="1.5"/><rect x="348.11" y="486.0" width="1.7" height="1.8"/><rect x="355.43" y="475.6" width="1.7" height="15.4"/><rect x="370.07" y="460.8" width="1.7" height="3.2"/><rect x="379.83" y="450.2" width="1.7" height="13.1"/><rect x="382.27" y="463.3" width="1.7" height="3.3"/><rect x="387.15" y="460.8" width="1.7" height="13.8"/><rect x="389.59" y="474.6" width="1.7" height="9.0"/><rect x="396.90" y="475.8" width="1.7" height="13.0"/><rect x="399.34" y="488.8" width="1.7" height="2.6"/><rect x="404.22" y="485.4" width="1.7" height="28.6"/><rect x="411.54" y="502.3" width="1.7" height="3.0"/><rect x="438.38" y="446.0" width="1.7" height="9.0"/><rect x="460.33" y="403.8" width="1.7" height="1.0"/><rect x="462.77" y="404.3" width="1.7" height="6.5"/><rect x="474.97" y="382.3" width="1.7" height="6.0"/><rect x="477.41" y="387.8" width="1.7" height="1.0"/><rect x="479.85" y="387.8" width="1.7" height="1.6"/><rect x="482.29" y="389.0" width="1.7" height="5.8"/><rect x="484.73" y="396.5" width="1.7" height="4.1"/><rect x="487.17" y="397.3" width="1.7" height="4.1"/><rect x="492.05" y="399.0" width="1.7" height="7.3"/><rect x="494.49" y="406.3" width="1.7" height="5.7"/><rect x="496.93" y="411.2" width="1.7" height="9.8"/><rect x="501.81" y="412.0" width="1.7" height="5.7"/><rect x="504.25" y="418.0" width="1.7" height="1.0"/><rect x="526.20" y="359.4" width="1.7" height="1.3"/><rect x="528.64" y="366.8" width="1.7" height="5.7"/><rect x="531.08" y="372.0" width="1.7" height="1.0"/><rect x="538.40" y="372.2" width="1.7" height="6.0"/><rect x="540.84" y="378.2" width="1.7" height="5.8"/><rect x="548.16" y="378.2" width="1.7" height="3.3"/><rect x="560.36" y="347.0" width="1.7" height="9.0"/><rect x="562.80" y="356.0" width="1.7" height="17.3"/><rect x="567.68" y="369.0" width="1.7" height="5.5"/><rect x="570.12" y="374.5" width="1.7" height="1.7"/><rect x="575.00" y="359.8" width="1.7" height="3.2"/><rect x="577.44" y="363.0" width="1.7" height="1.0"/><rect x="579.87" y="364.0" width="1.7" height="16.3"/><rect x="582.31" y="378.6" width="1.7" height="1.7"/><rect x="584.75" y="379.4" width="1.7" height="1.2"/><rect x="587.19" y="379.4" width="1.7" height="1.6"/><rect x="592.07" y="370.0" width="1.7" height="2.0"/><rect x="594.51" y="372.0" width="1.7" height="6.6"/><rect x="609.15" y="329.6" width="1.7" height="4.1"/><rect x="623.79" y="247.8" width="1.7" height="1.5"/><rect x="631.11" y="196.4" width="1.7" height="8.1"/><rect x="638.43" y="166.0" width="1.7" height="8.3"/><rect x="640.86" y="176.8" width="1.7" height="30.2"/><rect x="643.30" y="207.0" width="1.7" height="16.3"/><rect x="645.74" y="228.6" width="1.7" height="2.8"/><rect x="657.94" y="184.0" width="1.7" height="19.0"/><rect x="660.38" y="204.5" width="1.7" height="14.9"/><rect x="662.82" y="219.4" width="1.7" height="22.9"/><rect x="675.02" y="153.2" width="1.7" height="8.2"/><rect x="677.46" y="161.0" width="1.7" height="1.0"/><rect x="687.22" y="124.6" width="1.7" height="27.8"/><rect x="689.66" y="154.0" width="1.7" height="9.0"/><rect x="696.98" y="156.5" width="1.7" height="5.7"/><rect x="699.42" y="163.0" width="1.7" height="13.9"/><rect x="704.29" y="156.5" width="1.7" height="13.9"/><rect x="706.73" y="171.2" width="1.7" height="7.3"/><rect x="714.05" y="172.0" width="1.7" height="1.4"/><rect x="718.93" y="158.2" width="1.7" height="6.5"/><rect x="721.37" y="164.7" width="1.7" height="7.3"/><rect x="723.81" y="173.7" width="1.7" height="9.0"/><rect x="733.57" y="135.3" width="1.7" height="4.9"/><rect x="736.01" y="141.0" width="1.7" height="2.5"/><rect x="738.45" y="145.0" width="1.7" height="3.4"/><rect x="743.33" y="171.3" width="1.7" height="5.7"/><rect x="748.21" y="151.7" width="1.7" height="43.3"/><rect x="757.97" y="161.8" width="1.7" height="24.2"/><rect x="760.41" y="186.0" width="1.7" height="12.5"/><rect x="762.84" y="197.4" width="1.7" height="14.2"/><rect x="767.72" y="196.4" width="1.7" height="14.1"/><rect x="782.36" y="117.8" width="1.7" height="16.3"/><rect x="784.80" y="134.1" width="1.7" height="26.2"/><rect x="787.24" y="159.4" width="1.7" height="11.5"/><rect x="789.68" y="170.9" width="1.7" height="42.1"/><rect x="801.88" y="144.4" width="1.7" height="26.2"/><rect x="804.32" y="170.6" width="1.7" height="18.7"/><rect x="806.76" y="189.3" width="1.7" height="2.5"/><rect x="811.64" y="153.4" width="1.7" height="7.4"/><rect x="814.08" y="160.8" width="1.7" height="29.4"/><rect x="818.96" y="186.0" width="1.7" height="10.7"/><rect x="821.40" y="193.4" width="1.7" height="32.4"/><rect x="826.27" y="206.2" width="1.7" height="20.5"/><rect x="828.71" y="225.0" width="1.7" height="5.8"/><rect x="831.15" y="230.0" width="1.7" height="25.3"/><rect x="833.59" y="255.3" width="1.7" height="9.0"/><rect x="836.03" y="262.6" width="1.7" height="2.4"/><rect x="838.47" y="264.3" width="1.7" height="8.1"/></g>
<line x1="36" y1="457.5" x2="55" y2="457.5" stroke="#131722" stroke-width="1.6"/>
<line x1="60" y1="442.5" x2="135" y2="442.5" stroke="#131722" stroke-width="1.6"/>
<line x1="51" y1="489" x2="70.6" y2="489" stroke="#131722" stroke-width="1.6"/>
<line x1="16.3" y1="483.6" x2="31.3" y2="483.6" stroke="#131722" stroke-width="1.6"/>
<line x1="146.3" y1="414.5" x2="158.5" y2="414.5" stroke="#131722" stroke-width="1.6"/>
<line x1="163" y1="406.8" x2="183" y2="406.8" stroke="#131722" stroke-width="1.6"/>
<line x1="183" y1="413" x2="330" y2="413" stroke="#131722" stroke-width="1.6"/>
<line x1="192.7" y1="438" x2="204" y2="438" stroke="#131722" stroke-width="1.6"/>
<line x1="212.4" y1="468.5" x2="261.4" y2="468.5" stroke="#131722" stroke-width="1.6"/>
<line x1="265.5" y1="463.2" x2="314.6" y2="463.2" stroke="#131722" stroke-width="1.6"/>
<line x1="329.3" y1="435.5" x2="378.4" y2="435.5" stroke="#131722" stroke-width="1.6"/>
<line x1="348.2" y1="501.4" x2="398" y2="501.4" stroke="#131722" stroke-width="1.6"/>
<line x1="12.3" y1="524.6" x2="417" y2="524.6" stroke="#131722" stroke-width="1.6"/>
<line x1="470.8" y1="376" x2="515.8" y2="376" stroke="#131722" stroke-width="1.6"/>
<line x1="524" y1="353.7" x2="554.3" y2="353.7" stroke="#131722" stroke-width="1.6"/>
<line x1="558.4" y1="332.2" x2="606.7" y2="332.2" stroke="#131722" stroke-width="1.6"/>
<line x1="636.3" y1="150.1" x2="675.6" y2="150.1" stroke="#131722" stroke-width="1.6"/>
<line x1="680.5" y1="121" x2="773.8" y2="121" stroke="#131722" stroke-width="1.6"/>
<line x1="714" y1="193.3" x2="754" y2="193.3" stroke="#131722" stroke-width="1.6"/>
<line x1="748.8" y1="231.8" x2="827.2" y2="231.8" stroke="#131722" stroke-width="1.6"/>
<line x1="782.9" y1="134.7" x2="812.8" y2="134.7" stroke="#131722" stroke-width="1.6"/>
<line x1="178" y1="364.5" x2="434.9" y2="452.6" stroke="#131722" stroke-width="1.4"/>
<line x1="636.3" y1="150.1" x2="667.4" y2="194.7" stroke="#131722" stroke-width="1.4"/>
<line x1="777.9" y1="96.2" x2="846.8" y2="203" stroke="#131722" stroke-width="1.3"/>
<rect x="41.20" y="451.90" width="8.20" height="6.6" fill="#ffffff"/>
<text x="41.80" y="457.30" font-size="5.4" fill="#2962ff" stroke="#2962ff" stroke-width="0.1" font-weight="bold" textLength="7.00" lengthAdjust="spacingAndGlyphs">BOS</text>
<rect x="92.40" y="439.10" width="8.20" height="6.6" fill="#ffffff"/>
<text x="93.00" y="444.50" font-size="5.4" fill="#2962ff" stroke="#2962ff" stroke-width="0.1" font-weight="bold" textLength="7.00" lengthAdjust="spacingAndGlyphs">BOS</text>
<rect x="55.90" y="492.20" width="8.20" height="6.6" fill="#ffffff"/>
<text x="56.50" y="497.60" font-size="5.4" fill="#2962ff" stroke="#2962ff" stroke-width="0.1" font-weight="bold" textLength="7.00" lengthAdjust="spacingAndGlyphs">SSL</text>
<rect x="109.90" y="496.80" width="17.20" height="6.6" fill="#ffffff"/>
<text x="110.50" y="502.20" font-size="5.4" fill="#2962ff" stroke="#2962ff" stroke-width="0.1" font-weight="bold" textLength="16.00" lengthAdjust="spacingAndGlyphs">BUY ZONE</text>
<rect x="148.30" y="436.40" width="12.20" height="6.6" fill="#ffffff"/>
<text x="148.90" y="441.80" font-size="5.4" fill="#2962ff" stroke="#2962ff" stroke-width="0.1" font-weight="bold" textLength="11.00" lengthAdjust="spacingAndGlyphs">INT LQ</text>
<rect x="148.40" y="403.60" width="8.20" height="6.6" fill="#ffffff"/>
<text x="149.00" y="409.00" font-size="5.4" fill="#2962ff" stroke="#2962ff" stroke-width="0.1" font-weight="bold" textLength="7.00" lengthAdjust="spacingAndGlyphs">BOS</text>
<rect x="166.05" y="408.50" width="15.50" height="6.6" fill="#ffffff"/>
<text x="166.65" y="413.90" font-size="5.4" fill="#2962ff" stroke="#2962ff" stroke-width="0.1" font-weight="bold" textLength="14.30" lengthAdjust="spacingAndGlyphs">CHOCH</text>
<rect x="234.40" y="401.20" width="45.20" height="6.6" fill="#ffffff"/>
<text x="235.00" y="406.60" font-size="5.4" fill="#2962ff" stroke="#2962ff" stroke-width="0.1" font-weight="bold" textLength="44.00" lengthAdjust="spacingAndGlyphs">MULTIPLE WICK REJECTION</text>
<text x="195.20" y="443.00" font-size="5.4" fill="#2962ff" stroke="#2962ff" stroke-width="0.1" font-weight="bold" textLength="7.00" lengthAdjust="spacingAndGlyphs">BOS</text>
<rect x="232.40" y="465.10" width="8.20" height="6.6" fill="#ffffff"/>
<text x="233.00" y="470.50" font-size="5.4" fill="#2962ff" stroke="#2962ff" stroke-width="0.1" font-weight="bold" textLength="7.00" lengthAdjust="spacingAndGlyphs">BOS</text>
<rect x="278.30" y="455.00" width="20.80" height="6.6" fill="#ffffff"/>
<text x="278.90" y="460.40" font-size="5.4" fill="#2962ff" stroke="#2962ff" stroke-width="0.1" font-weight="bold" textLength="19.60" lengthAdjust="spacingAndGlyphs">BUY SIDE LQ</text>
<rect x="265.90" y="514.20" width="28.20" height="6.6" fill="#ffffff"/>
<text x="266.50" y="519.60" font-size="5.4" fill="#2962ff" stroke="#2962ff" stroke-width="0.1" font-weight="bold" textLength="27.00" lengthAdjust="spacingAndGlyphs">DOUBLE BOTTOM</text>
<rect x="340.40" y="431.40" width="27.20" height="6.6" fill="#ffffff"/>
<text x="341.00" y="436.80" font-size="5.4" fill="#2962ff" stroke="#2962ff" stroke-width="0.1" font-weight="bold" textLength="26.00" lengthAdjust="spacingAndGlyphs">LQ VOID POINT</text>
<rect x="363.40" y="500.50" width="21.80" height="6.6" fill="#ffffff"/>
<text x="364.00" y="505.90" font-size="5.4" fill="#2962ff" stroke="#2962ff" stroke-width="0.1" font-weight="bold" textLength="20.60" lengthAdjust="spacingAndGlyphs">SELL SIDE LQ</text>
<rect x="180.50" y="519.10" width="33.40" height="6.6" fill="#ffffff"/>
<text x="181.10" y="524.50" font-size="5.4" fill="#2962ff" stroke="#2962ff" stroke-width="0.1" font-weight="bold" textLength="32.20" lengthAdjust="spacingAndGlyphs">EXTERNAL LQ POINT</text>
<rect x="388.00" y="439.20" width="46.80" height="6.6" fill="#ffffff"/>
<text x="388.60" y="444.60" font-size="5.4" fill="#2962ff" stroke="#2962ff" stroke-width="0.1" font-weight="bold" textLength="45.60" lengthAdjust="spacingAndGlyphs">T.L CHANGE OF CHARACTER</text>
<rect x="472.95" y="429.50" width="38.70" height="6.6" fill="#ffffff"/>
<text x="473.55" y="434.90" font-size="5.4" fill="#2962ff" stroke="#2962ff" stroke-width="0.1" font-weight="bold" textLength="37.50" lengthAdjust="spacingAndGlyphs">FAIR VALUE GAP FILLED</text>
<rect x="487.70" y="372.80" width="8.20" height="6.6" fill="#ffffff"/>
<text x="488.30" y="378.20" font-size="5.4" fill="#2962ff" stroke="#2962ff" stroke-width="0.1" font-weight="bold" textLength="7.00" lengthAdjust="spacingAndGlyphs">BOS</text>
<rect x="531.40" y="349.40" width="8.20" height="6.6" fill="#ffffff"/>
<text x="532.00" y="354.80" font-size="5.4" fill="#2962ff" stroke="#2962ff" stroke-width="0.1" font-weight="bold" textLength="7.00" lengthAdjust="spacingAndGlyphs">BOS</text>
<rect x="580.50" y="328.50" width="8.20" height="6.6" fill="#ffffff"/>
<text x="581.10" y="333.90" font-size="5.4" fill="#2962ff" stroke="#2962ff" stroke-width="0.1" font-weight="bold" textLength="7.00" lengthAdjust="spacingAndGlyphs">BOS</text>
<rect x="534.30" y="391.60" width="56.00" height="6.6" fill="#ffffff"/>
<text x="534.90" y="397.00" font-size="5.4" fill="#2962ff" stroke="#2962ff" stroke-width="0.1" font-weight="bold" textLength="54.80" lengthAdjust="spacingAndGlyphs">FVG+MULTIPLE WICK REJECTIONS</text>
<rect x="634.40" y="260.90" width="31.20" height="6.6" fill="#ffffff"/>
<text x="635.00" y="266.30" font-size="5.4" fill="#2962ff" stroke="#2962ff" stroke-width="0.1" font-weight="bold" textLength="30.00" lengthAdjust="spacingAndGlyphs">VOID POINT FILLED</text>
<rect x="650.90" y="147.20" width="8.20" height="6.6" fill="#ffffff"/>
<text x="651.50" y="152.60" font-size="5.4" fill="#2962ff" stroke="#2962ff" stroke-width="0.1" font-weight="bold" textLength="7.00" lengthAdjust="spacingAndGlyphs">BOS</text>
<rect x="648.95" y="163.60" width="17.70" height="6.6" fill="#ffffff"/>
<text x="649.55" y="169.00" font-size="5.4" fill="#2962ff" stroke="#2962ff" stroke-width="0.1" font-weight="bold" textLength="16.50" lengthAdjust="spacingAndGlyphs">INV INT LQ</text>
<rect x="716.10" y="115.10" width="22.20" height="6.6" fill="#ffffff"/>
<text x="716.70" y="120.50" font-size="5.4" fill="#2962ff" stroke="#2962ff" stroke-width="0.1" font-weight="bold" textLength="21.00" lengthAdjust="spacingAndGlyphs">BUY SIDE LQ</text>
<rect x="724.15" y="192.40" width="15.70" height="6.6" fill="#ffffff"/>
<text x="724.75" y="197.80" font-size="5.4" fill="#2962ff" stroke="#2962ff" stroke-width="0.1" font-weight="bold" textLength="14.50" lengthAdjust="spacingAndGlyphs">CHOCH</text>
<rect x="787.90" y="228.10" width="8.20" height="6.6" fill="#ffffff"/>
<text x="788.50" y="233.50" font-size="5.4" fill="#2962ff" stroke="#2962ff" stroke-width="0.1" font-weight="bold" textLength="7.00" lengthAdjust="spacingAndGlyphs">BOS</text>
<rect x="785.20" y="125.80" width="42.40" height="6.6" fill="#ffffff"/>
<text x="785.80" y="131.20" font-size="5.4" fill="#2962ff" stroke="#2962ff" stroke-width="0.1" font-weight="bold" textLength="41.20" lengthAdjust="spacingAndGlyphs">PREMIUM SELLING POINT</text>
<rect x="812.70" y="147.50" width="45.60" height="6.6" fill="#ffffff"/>
<text x="813.30" y="152.90" font-size="5.4" fill="#2962ff" stroke="#2962ff" stroke-width="0.1" font-weight="bold" textLength="44.40" lengthAdjust="spacingAndGlyphs">STRONG SELLING PRESSURE</text>
<rect x="738.9" y="352" width="32.9" height="8.8" fill="#ffffff"/>
<text x="740.05" y="358.70" font-size="6.7" fill="#2962ff" stroke="#2962ff" stroke-width="0.1" font-weight="bold" textLength="30.50" lengthAdjust="spacingAndGlyphs">BUYING ZONE</text>
<line x1="822" y1="36" x2="910" y2="36" stroke="#2962ff" stroke-width="1.4"/>
<line x1="824.2" y1="176.5" x2="910" y2="176.5" stroke="#2962ff" stroke-width="1.4"/>
<line x1="614.4" y1="313.6" x2="910" y2="313.6" stroke="#2962ff" stroke-width="1.4"/>
<line x1="614.4" y1="398.2" x2="910" y2="398.2" stroke="#2962ff" stroke-width="1.4"/>
<path d="M840.2 272.4 L855.9 324 L880.4 35.6" stroke="#131722" stroke-width="1.5" fill="none" stroke-linejoin="miter"/>
<path d="M874 42.6 L880.4 35.6 L886 45" stroke="#131722" stroke-width="1.5" fill="none"/>
<rect x="910" y="0" width="22" height="550" fill="#ffffff"/>
<rect x="0" y="536" width="932" height="14" fill="#ffffff"/>
<rect x="910" y="0" width="1.8" height="550" fill="#e3e3e3"/>
<rect x="0" y="535.9" width="932" height="1.6" fill="#e3e3e3"/>
<rect x="911.9" y="1.5" width="18.5" height="10.5" rx="1.5" fill="#ffffff" stroke="#eef0f3" stroke-width="0.6"/>
<text transform="translate(914.50,9.30) scale(0.66,1)" font-size="6.5" fill="#131722" text-anchor="start" >USD</text>
<text transform="translate(913.30,66.35) scale(0.625,1)" font-size="7" fill="#131722" text-anchor="start" >0.72500</text>
<text transform="translate(913.30,94.00) scale(0.625,1)" font-size="7" fill="#131722" text-anchor="start" >0.72000</text>
<text transform="translate(913.30,121.65) scale(0.625,1)" font-size="7" fill="#131722" text-anchor="start" >0.71500</text>
<text transform="translate(913.30,149.30) scale(0.625,1)" font-size="7" fill="#131722" text-anchor="start" >0.71000</text>
<text transform="translate(913.30,204.60) scale(0.625,1)" font-size="7" fill="#131722" text-anchor="start" >0.70000</text>
<text transform="translate(913.30,232.25) scale(0.625,1)" font-size="7" fill="#131722" text-anchor="start" >0.69500</text>
<text transform="translate(913.30,259.90) scale(0.625,1)" font-size="7" fill="#131722" text-anchor="start" >0.69000</text>
<text transform="translate(913.30,287.55) scale(0.625,1)" font-size="7" fill="#131722" text-anchor="start" >0.68500</text>
<text transform="translate(913.30,342.85) scale(0.625,1)" font-size="7" fill="#131722" text-anchor="start" >0.67500</text>
<text transform="translate(913.30,370.50) scale(0.625,1)" font-size="7" fill="#131722" text-anchor="start" >0.67000</text>
<text transform="translate(913.30,425.80) scale(0.625,1)" font-size="7" fill="#131722" text-anchor="start" >0.66000</text>
<text transform="translate(913.30,453.45) scale(0.625,1)" font-size="7" fill="#131722" text-anchor="start" >0.65500</text>
<text transform="translate(913.30,481.10) scale(0.625,1)" font-size="7" fill="#131722" text-anchor="start" >0.65000</text>
<text transform="translate(913.30,508.75) scale(0.625,1)" font-size="7" fill="#131722" text-anchor="start" >0.64500</text>
<text transform="translate(913.30,538.30) scale(0.625,1)" font-size="7" fill="#131722" text-anchor="start" >0.64000</text>
<rect x="910" y="535.9" width="22" height="14.1" fill="#ffffff"/><rect x="910" y="535.9" width="1.8" height="14.1" fill="#e3e3e3"/><rect x="910" y="535.9" width="22" height="1.6" fill="#e3e3e3"/>
<rect x="911" y="31.7" width="19.8" height="8.6" rx="1" fill="#2962ff"/>
<text transform="translate(913.30,38.50) scale(0.625,1)" font-size="7" fill="#ffffff" text-anchor="start" >0.73004</text>
<rect x="911" y="172.2" width="19.8" height="8.6" rx="1" fill="#2962ff"/>
<text transform="translate(913.30,179.00) scale(0.625,1)" font-size="7" fill="#ffffff" text-anchor="start" >0.70468</text>
<rect x="911" y="309.3" width="19.8" height="8.6" rx="1" fill="#2962ff"/>
<text transform="translate(913.30,316.10) scale(0.625,1)" font-size="7" fill="#ffffff" text-anchor="start" >0.67998</text>
<rect x="911" y="393.9" width="19.8" height="8.6" rx="1" fill="#2962ff"/>
<text transform="translate(913.30,400.70) scale(0.625,1)" font-size="7" fill="#ffffff" text-anchor="start" >0.66468</text>
<rect x="892" y="268.4" width="38.8" height="8.6" rx="1" fill="#e0313f"/>
<text transform="translate(893.20,275.00) scale(0.6,1)" font-size="7" fill="#ffffff" text-anchor="start" >AUDUSD</text>
<text transform="translate(913.30,275.00) scale(0.625,1)" font-size="7" fill="#ffffff" text-anchor="start" >0.68732</text>
<text transform="translate(19.30,545.80) scale(0.63,1)" font-size="7" fill="#2a2e39" text-anchor="middle" >Aug</text>
<text transform="translate(38.60,545.80) scale(0.63,1)" font-size="7" fill="#2a2e39" text-anchor="middle" >7</text>
<text transform="translate(58.70,545.80) scale(0.63,1)" font-size="7" fill="#2a2e39" text-anchor="middle" >13</text>
<text transform="translate(78.00,545.80) scale(0.63,1)" font-size="7" fill="#2a2e39" text-anchor="middle" >19</text>
<text transform="translate(94.80,545.80) scale(0.63,1)" font-size="7" fill="#2a2e39" text-anchor="middle" >24</text>
<text transform="translate(121.80,545.80) scale(0.63,1)" font-size="7" fill="#2a2e39" text-anchor="middle" >Sep</text>
<text transform="translate(141.10,545.80) scale(0.63,1)" font-size="7" fill="#2a2e39" text-anchor="middle" >5</text>
<text transform="translate(161.00,545.80) scale(0.63,1)" font-size="7" fill="#2a2e39" text-anchor="middle" >11</text>
<text transform="translate(180.50,545.80) scale(0.63,1)" font-size="7" fill="#2a2e39" text-anchor="middle" >17</text>
<text transform="translate(199.80,545.80) scale(0.63,1)" font-size="7" fill="#2a2e39" text-anchor="middle" >23</text>
<text transform="translate(229.20,545.80) scale(0.63,1)" font-size="7" fill="#2a2e39" text-anchor="middle" >Oct</text>
<text transform="translate(248.50,545.80) scale(0.63,1)" font-size="7" fill="#2a2e39" text-anchor="middle" >7</text>
<text transform="translate(266.00,545.80) scale(0.63,1)" font-size="7" fill="#2a2e39" text-anchor="middle" >12</text>
<text transform="translate(282.80,545.80) scale(0.63,1)" font-size="7" fill="#2a2e39" text-anchor="middle" >16</text>
<text transform="translate(302.60,545.80) scale(0.63,1)" font-size="7" fill="#2a2e39" text-anchor="middle" >22</text>
<text transform="translate(322.00,545.80) scale(0.63,1)" font-size="7" fill="#2a2e39" text-anchor="middle" >28</text>
<text transform="translate(339.00,545.80) scale(0.63,1)" font-size="7" fill="#2a2e39" text-anchor="middle" >Nov</text>
<text transform="translate(356.20,545.80) scale(0.63,1)" font-size="7" fill="#2a2e39" text-anchor="middle" >6</text>
<text transform="translate(376.00,545.80) scale(0.63,1)" font-size="7" fill="#2a2e39" text-anchor="middle" >12</text>
<text transform="translate(395.30,545.80) scale(0.63,1)" font-size="7" fill="#2a2e39" text-anchor="middle" >18</text>
<text transform="translate(412.00,545.80) scale(0.63,1)" font-size="7" fill="#2a2e39" text-anchor="middle" >23</text>
<text transform="translate(439.00,545.80) scale(0.63,1)" font-size="7" fill="#2a2e39" text-anchor="middle" >Dec</text>
<text transform="translate(458.40,545.80) scale(0.63,1)" font-size="7" fill="#2a2e39" text-anchor="middle" >5</text>
<text transform="translate(477.50,545.80) scale(0.63,1)" font-size="7" fill="#2a2e39" text-anchor="middle" >11</text>
<text transform="translate(497.60,545.80) scale(0.63,1)" font-size="7" fill="#2a2e39" text-anchor="middle" >17</text>
<text transform="translate(517.20,545.80) scale(0.63,1)" font-size="7" fill="#2a2e39" text-anchor="middle" >23</text>
<text transform="translate(543.70,545.80) scale(0.63,1)" font-size="7" fill="#2a2e39" text-anchor="middle" font-weight="bold" >2026</text>
<text transform="translate(561.00,545.80) scale(0.63,1)" font-size="7" fill="#2a2e39" text-anchor="middle" >7</text>
<text transform="translate(580.30,545.80) scale(0.63,1)" font-size="7" fill="#2a2e39" text-anchor="middle" >13</text>
<text transform="translate(597.80,545.80) scale(0.63,1)" font-size="7" fill="#2a2e39" text-anchor="middle" >18</text>
<text transform="translate(614.50,545.80) scale(0.63,1)" font-size="7" fill="#2a2e39" text-anchor="middle" >22</text>
<text transform="translate(646.00,545.80) scale(0.63,1)" font-size="7" fill="#2a2e39" text-anchor="middle" >Feb</text>
<text transform="translate(663.50,545.80) scale(0.63,1)" font-size="7" fill="#2a2e39" text-anchor="middle" >5</text>
<text transform="translate(683.00,545.80) scale(0.63,1)" font-size="7" fill="#2a2e39" text-anchor="middle" >11</text>
<text transform="translate(702.20,545.80) scale(0.63,1)" font-size="7" fill="#2a2e39" text-anchor="middle" >17</text>
<text transform="translate(719.30,545.80) scale(0.63,1)" font-size="7" fill="#2a2e39" text-anchor="middle" >22</text>
<text transform="translate(743.80,545.80) scale(0.63,1)" font-size="7" fill="#2a2e39" text-anchor="middle" >Mar</text>
<text transform="translate(760.60,545.80) scale(0.63,1)" font-size="7" fill="#2a2e39" text-anchor="middle" >5</text>
<text transform="translate(780.10,545.80) scale(0.63,1)" font-size="7" fill="#2a2e39" text-anchor="middle" >11</text>
<text transform="translate(800.10,545.80) scale(0.63,1)" font-size="7" fill="#2a2e39" text-anchor="middle" >17</text>
<text transform="translate(817.20,545.80) scale(0.63,1)" font-size="7" fill="#2a2e39" text-anchor="middle" >22</text>
<text transform="translate(834.10,545.80) scale(0.63,1)" font-size="7" fill="#2a2e39" text-anchor="middle" >26</text>
<text transform="translate(853.60,545.80) scale(0.63,1)" font-size="7" fill="#2a2e39" text-anchor="middle" >Apr</text>
<text transform="translate(873.00,545.80) scale(0.63,1)" font-size="7" fill="#2a2e39" text-anchor="middle" >7</text>
<text transform="translate(890.20,545.80) scale(0.63,1)" font-size="7" fill="#2a2e39" text-anchor="middle" >12</text>
<text transform="translate(906.30,545.80) scale(0.63,1)" font-size="7" fill="#2a2e39" text-anchor="middle" >16</text>
<rect x="910" y="537.5" width="22" height="12.5" fill="#ffffff"/><rect x="910" y="537.5" width="1.8" height="12.5" fill="#e3e3e3"/>
<ellipse cx="839" cy="531.3" rx="2.7" ry="4.2" fill="#ffffff" stroke="#ec8f97" stroke-width="0.6"/>
<path d="M839.1 529.6 L839.8 531.3 L839.1 533 L838.4 531.3 Z" fill="#d8404e"/>
<rect x="844" y="526.6" width="14.3" height="9.2" rx="3" fill="#f9c2c6"/>
<ellipse cx="847" cy="531.3" rx="2.1" ry="3.6" fill="#2459dc"/>
<ellipse cx="847.9" cy="530.6" rx="1.2" ry="2.4" fill="#f9c2c6"/>
<g fill="#e05060"><rect x="849.3" y="528.2" width="6.8" height="0.9"/><rect x="849.3" y="530.9" width="6.8" height="0.9"/><rect x="849.3" y="533.6" width="6.8" height="0.9"/></g>
<g fill="#ffffff"><rect x="849.3" y="529.3" width="6.8" height="1.3"/><rect x="849.3" y="532" width="6.8" height="1.3"/></g>
<ellipse cx="857.2" cy="531.3" rx="1.1" ry="3.4" fill="#2459dc"/>
<ellipse cx="861.3" cy="531.3" rx="2.6" ry="4.2" fill="#f9c2c6"/>
<ellipse cx="861" cy="530" rx="1.5" ry="2.4" fill="#5a82e8"/>
<rect x="859.4" y="532.6" width="3.8" height="0.9" fill="#ffffff"/><rect x="859.8" y="533.6" width="3" height="0.8" fill="#e05060"/>
<text x="2.1" y="9.0" font-size="6.0" font-weight="bold" fill="#131722" textLength="72.6" lengthAdjust="spacingAndGlyphs">Australian Dollar / U.S. Dollar · 16h · OANDA</text>
</svg></body></html>
